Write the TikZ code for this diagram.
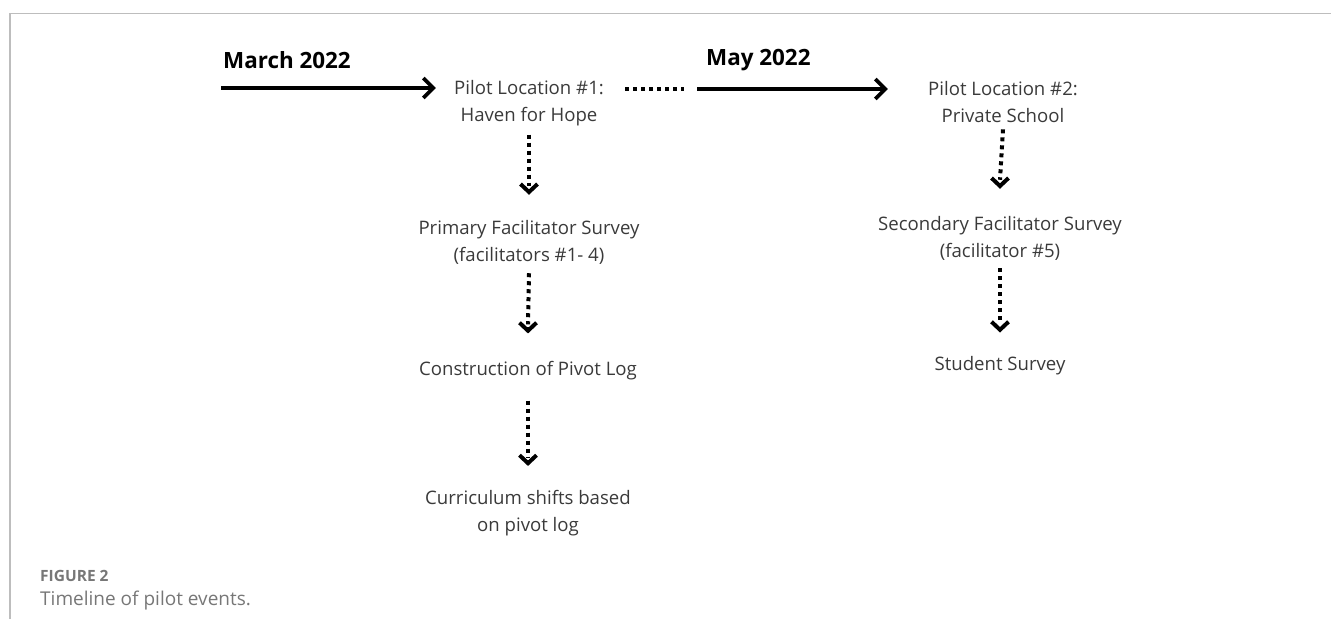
\documentclass[tikz,border=0pt]{standalone}
\usepackage{fontspec}
\setmainfont{Open Sans}
\usetikzlibrary{arrows.meta}
\definecolor{txt}{HTML}{3A3A3A}
\definecolor{capc}{HTML}{777777}
\definecolor{framec}{HTML}{BDBDBD}
\begin{document}
\begin{tikzpicture}[x=1pt,y=-1pt,
  lbl/.style={font=\fontsize{18.6}{27}\selectfont, text=txt, align=center, inner sep=0pt},
  datelbl/.style={font=\fontsize{22.4}{26}\selectfont\bfseries, text=black, inner sep=0pt, anchor=west},
  tarrow/.style={line width=3.8pt, -{Straight Barb[length=10pt,width=20pt]}},
  dline/.style={line width=4pt, dash pattern=on 4pt off 4pt},
  tipc/.style={line width=4pt, -{Straight Barb[length=8pt,width=17pt]}},
  capfig/.style={font=\fontsize{15.5}{16}\selectfont\bfseries, text=capc, inner sep=0pt, anchor=west},
  captext/.style={font=\fontsize{19}{20}\selectfont, text=capc, inner sep=0pt, anchor=west}]
\useasboundingbox (0,0) rectangle (1331,619);
% frame
\draw[framec, line width=1.5pt] (10,619) -- (10,13.5) -- (1331,13.5);
% dates
\node[datelbl] (m) at (223,60) {March 2022};
\node[datelbl] (may) at (706,60) {May 2022};
\coordinate (s) at (221,88);
\coordinate (s2) at (697,89);
% nodes
\node[lbl] (p1) at (529,103.5) {Pilot Location \#1:\\Haven for Hope};
\node[lbl] (p2) at (1003,102.5) {Pilot Location \#2:\\Private School};
\node[lbl] (f1) at (529,242) {Primary Facilitator Survey\\(facilitators \#1- 4)};
\node[lbl] (c1) at (528,371) {Construction of Pivot Log};
\node[lbl] (cs) at (528,513) {Curriculum shifts based\\on pivot log};
\node[lbl] (f2) at (1000,238) {Secondary Facilitator Survey\\(facilitator \#5)};
\node[lbl] (ss) at (1000,366) {Student Survey};
% timeline
\draw[tarrow] (s) -- ([xshift=-18pt]p1.west |- s);
\draw[dline] ([xshift=21pt]p1.east |- s2) -- ([xshift=-13pt]s2);
\draw[tarrow] (s2) -- ([xshift=-40pt]p2.west |- s2);
% vertical dotted connectors: dotted shaft + solid chevron tip
\draw[dline] ([yshift=-8pt]p1.south) -- ([yshift=34pt]f1.north);
\draw[tipc] ([yshift=31pt]f1.north) -- ([yshift=25pt]f1.north);
\draw[dline] ([yshift=-9pt]f1.south) -- ([yshift=37pt]c1.north);
\draw[tipc] ([yshift=34pt]c1.north) -- ([yshift=28pt]c1.north);
\draw[dline] ([yshift=-20pt]c1.south) -- ([yshift=33pt]cs.north);
\draw[tipc] ([yshift=30pt]cs.north) -- ([yshift=24pt]cs.north);
\draw[dline] ([yshift=-6pt]p2.south) -- ([yshift=36pt]f2.north);
\draw[tipc] ([yshift=33pt]f2.north) -- ([yshift=27pt]f2.north);
\draw[dline] ([yshift=-8pt]f2.south) -- ([yshift=33pt]ss.north);
\draw[tipc] ([yshift=30pt]ss.north) -- ([yshift=24pt]ss.north);
% caption
\node[capfig] (fig) at (40,576) {FIGURE 2};
\node[captext] (cap) at (40,601) {Timeline of pilot events.};
\end{tikzpicture}
\end{document}
